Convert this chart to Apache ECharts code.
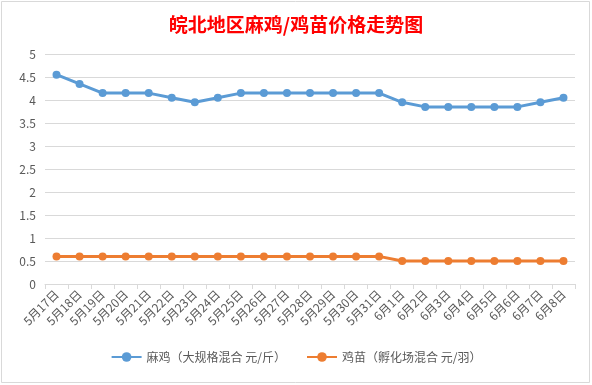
<!DOCTYPE html>
<html><head><meta charset="utf-8">
<script src="https://cdn.jsdelivr.net/npm/echarts@6/dist/echarts.min.js"></script>
<style>html,body{margin:0;padding:0;background:#fff}#c{width:592px;height:385px}</style>
</head><body><div id="c"></div>
<script>
const categories = ['5月17日','5月18日','5月19日','5月20日','5月21日','5月22日','5月23日','5月24日','5月25日','5月26日','5月27日','5月28日','5月29日','5月30日','5月31日','6月1日','6月2日','6月3日','6月4日','6月5日','6月6日','6月7日','6月8日'];
const maji = [4.55,4.35,4.15,4.15,4.15,4.05,3.95,4.05,4.15,4.15,4.15,4.15,4.15,4.15,4.15,3.95,3.85,3.85,3.85,3.85,3.85,3.95,4.05];
const jimiao = [0.6,0.6,0.6,0.6,0.6,0.6,0.6,0.6,0.6,0.6,0.6,0.6,0.6,0.6,0.6,0.5,0.5,0.5,0.5,0.5,0.5,0.5,0.5];
const seriesNames = ['麻鸡（大规格混合 元/斤）','鸡苗（孵化场混合 元/羽）'];
const titleText = '皖北地区麻鸡/鸡苗价格走势图';
const font = '"Noto Sans CJK SC", "Open Sans", sans-serif';
const chart = echarts.init(document.getElementById('c'), null, {renderer:'canvas'});
chart.setOption({
  animation:false,
  backgroundColor:'#fff',
  graphic:[{type:'rect',shape:{x:1.5,y:1.5,width:588,height:381},style:{fill:'none',stroke:'#d9d9d9',lineWidth:1}}],
  title:{text:titleText,left:'center',top:10,textStyle:{color:'#ff0000',fontSize:19,fontWeight:'bold',fontFamily:font}},
  legend:{bottom:17,left:'center',itemWidth:30,itemHeight:12,itemGap:20,
    textStyle:{color:'#595959',fontSize:12,fontFamily:font},
    data:seriesNames},
  grid:{left:45,right:17,top:54,bottom:101},
  xAxis:{type:'category',data:categories,boundaryGap:true,
    axisLine:{lineStyle:{color:'#d9d9d9'}},
    axisTick:{show:true,length:5,lineStyle:{color:'#d9d9d9'}},
    axisLabel:{rotate:45,color:'#595959',fontSize:12,fontFamily:font,interval:0,margin:8}},
  yAxis:{type:'value',min:0,max:5,interval:0.5,
    axisLine:{show:false},axisTick:{show:false},
    splitLine:{lineStyle:{color:'#d9d9d9'}},
    axisLabel:{color:'#595959',fontSize:12,fontFamily:font,margin:9}},
  series:[
    {name:seriesNames[0],type:'line',data:maji,symbol:'circle',symbolSize:8,
     itemStyle:{color:'#5b9bd5'},lineStyle:{width:3,color:'#5b9bd5'}},
    {name:seriesNames[1],type:'line',data:jimiao,symbol:'circle',symbolSize:8,
     itemStyle:{color:'#ed7d31'},lineStyle:{width:3,color:'#ed7d31'}}
  ]
});
</script></body></html>
